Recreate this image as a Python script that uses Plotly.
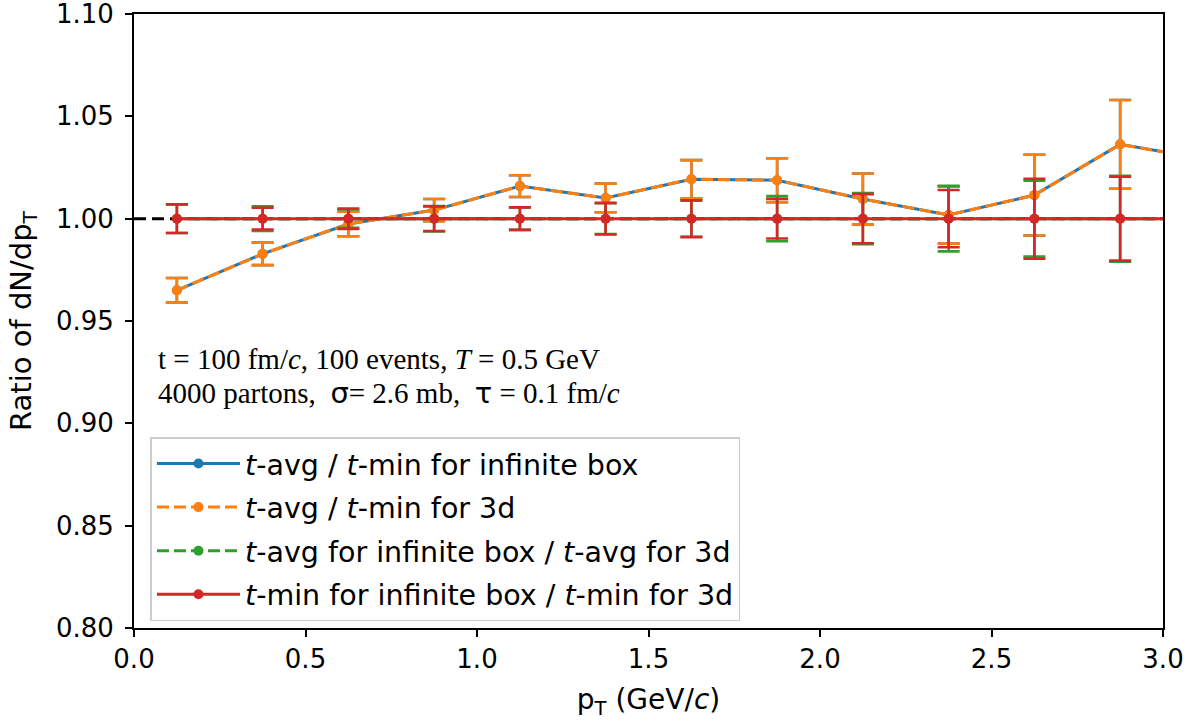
import plotly.graph_objects as go

# pT bin centres (GeV/c); the last bin lies just beyond the plotted range
pt = [0.125, 0.375, 0.625, 0.875, 1.125, 1.375, 1.625, 1.875, 2.125, 2.375, 2.625, 2.875, 3.125]

# t-avg / t-min ratios (infinite box and 3d give the same curve)
ratio_avg_min = [0.965, 0.9828, 0.9974, 1.0042, 1.0159, 1.0101, 1.0193, 1.0188, 1.0096, 1.0018, 1.0115, 1.0363, 1.029]
err_avg_min = [0.006, 0.0055, 0.006, 0.0054, 0.0053, 0.007, 0.0093, 0.0107, 0.0125, 0.014, 0.0197, 0.0217, 0.022]

# infinite box / 3d ratios
ratio_box_3d = [1.0] * 13
err_avg_box_3d = [0.007, 0.006, 0.0045, 0.0062, 0.0055, 0.0075, 0.0088, 0.011, 0.0125, 0.016, 0.0185, 0.021, 0.021]
err_min_box_3d = [0.007, 0.0053, 0.005, 0.006, 0.0055, 0.0077, 0.009, 0.0097, 0.012, 0.014, 0.0195, 0.0205, 0.021]

x_ticks = [0.0, 0.5, 1.0, 1.5, 2.0, 2.5, 3.0]
y_ticks = [0.80, 0.85, 0.90, 0.95, 1.00, 1.05, 1.10]

BLUE, ORANGE, GREEN, RED = "#1f77b4", "#ff7f0e", "#2ca02c", "#d62728"

fig = go.Figure()

# reference line at unity
fig.add_trace(go.Scatter(
    x=[0.0, 3.0], y=[1.0, 1.0], mode="lines",
    line=dict(color="black", width=3, dash="12px,6px"),
    showlegend=False, hoverinfo="skip",
))

series = [
    ("<i>t</i>-avg / <i>t</i>-min for infinite box", ratio_avg_min, err_avg_min, BLUE, "solid"),
    ("<i>t</i>-avg / <i>t</i>-min for 3d", ratio_avg_min, err_avg_min, ORANGE, "12px,5px"),
    ("<i>t</i>-avg for infinite box / <i>t</i>-avg for 3d", ratio_box_3d, err_avg_box_3d, GREEN, "12px,5px"),
    ("<i>t</i>-min for infinite box / <i>t</i>-min for 3d", ratio_box_3d, err_min_box_3d, RED, "solid"),
]

for i, (name, y, err, color, dash) in enumerate(series):
    fig.add_trace(go.Scatter(
        x=pt, y=y, name=name, mode="lines+markers", legendgroup=f"g{i}",
        line=dict(color=color, width=3, dash=dash),
        marker=dict(color=color, size=10),
        error_y=dict(type="data", array=err, visible=True, color=color,
                     thickness=2.6, width=11),
    ))

# run parameters, one annotation per line to keep the lines tight
info_lines = [
    "t = 100 fm/<i>c</i>, 100 events, <i>T</i> = 0.5 GeV",
    "4000 partons,  <span style='font-family:DejaVu Sans'>σ</span>= 2.6 mb,  "
    "<span style='font-family:DejaVu Sans'>τ</span> = 0.1 fm/<i>c</i>",
]
for k, line in enumerate(info_lines):
    fig.add_annotation(
        xref="paper", yref="paper", x=0.021, y=0.4375 - k * 0.055,
        xanchor="left", yanchor="middle", align="left", showarrow=False,
        text=line, font=dict(family="Liberation Serif", size=29, color="black"),
    )

axis_common = dict(
    showline=True, linecolor="black", linewidth=1.8, mirror=True,
    ticks="outside", ticklen=7, tickwidth=1.5, tickcolor="black",
    showgrid=False, zeroline=False, automargin=False,
    ticklabeloverflow="allow",
    tickfont=dict(family="DejaVu Sans", size=26, color="black"),
)

fig.update_xaxes(
    range=[0, 3.0], tickvals=x_ticks, ticktext=[f"{v:.1f}" for v in x_ticks],
    title=dict(text="p<sub>T</sub> (GeV/<i>c</i>)", standoff=16,
               font=dict(family="DejaVu Sans", size=28, color="black")),
    **axis_common,
)
fig.update_yaxes(
    range=[0.80, 1.10], tickvals=y_ticks, ticktext=[f"{v:.2f}" for v in y_ticks],
    title=dict(text="Ratio of dN/dp<sub>T</sub>", standoff=16,
               font=dict(family="DejaVu Sans", size=29, color="black")),
    ticklabelstandoff=6,
    **axis_common,
)

fig.update_layout(
    width=1200, height=723,
    margin=dict(l=134, r=37, t=14, b=95),
    plot_bgcolor="white", paper_bgcolor="white",
    legend=dict(
        x=0.016, y=0.311, xanchor="left", yanchor="top",
        bgcolor="rgba(255,255,255,0.8)", bordercolor="#cccccc", borderwidth=1.5,
        font=dict(family="DejaVu Sans", size=28.5, color="black"),
        itemwidth=83, tracegroupgap=3.5,
    ),
)

fig.write_html("out.html")
